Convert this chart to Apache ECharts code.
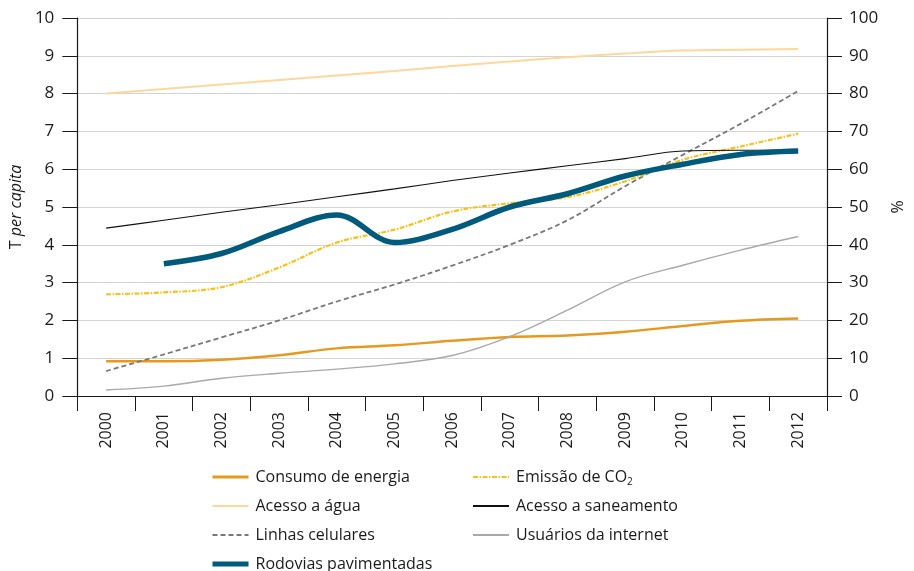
<!DOCTYPE html>
<html><head><meta charset="utf-8">
<script src="https://cdn.jsdelivr.net/npm/echarts@6/dist/echarts.min.js"></script>
<style>html,body{margin:0;padding:0;background:#fff}#c{width:914px;height:571px}</style>
</head><body><div id="c"></div>
<script>
const years = ['2000','2001','2002','2003','2004','2005','2006','2007','2008','2009','2010','2011','2012'];
const leftTicks = [0,1,2,3,4,5,6,7,8,9,10];
const rightTicks = [0,10,20,30,40,50,60,70,80,90,100];
// T per capita (left axis)
const consumoEnergia = [0.92,0.92,0.96,1.08,1.26,1.34,1.46,1.56,1.60,1.70,1.85,1.99,2.05];
const emissaoCO2 = [2.69,2.74,2.88,3.40,4.06,4.40,4.88,5.10,5.26,5.68,6.25,6.60,6.94];
// % (right axis)
const acessoAgua = [80.0,81.2,82.4,83.6,84.8,86.0,87.3,88.5,89.6,90.6,91.4,91.6,91.8];
const acessoSaneamento = [44.4,46.5,48.6,50.6,52.7,54.8,57.0,59.0,60.9,62.8,64.8,65.0,65.0];
const linhasCelulares = [6.6,11.0,15.5,20.0,25.0,29.5,34.5,40.0,46.5,55.5,63.8,72.0,80.7];
const usuariosInternet = [1.6,2.6,4.7,6.0,7.1,8.5,10.7,15.7,22.7,30.2,34.6,38.6,42.2];
const rodovias = [null,35.0,37.7,43.5,47.9,40.6,44.1,50.0,53.5,58.2,61.3,63.9,64.8];

const FONT = 'Open Sans';
const txt = '#1a1a1a';
const chart = echarts.init(document.getElementById('c'));
function ser(name, data, axis, color, width, type, z){
  return {name, type:'line', data, yAxisIndex:axis, smooth:0.35, symbol:'none', showSymbol:false, z:z||2,
    lineStyle:{color, width, type:type||'solid', cap:'butt'}, itemStyle:{color}};
}
const legendBase = {orient:'vertical', top:462, height:140, itemWidth:36, itemHeight:14, itemGap:9,
  itemStyle:{opacity:0}, selectedMode:false};
chart.setOption({
  animation:false,
  textStyle:{fontFamily:FONT},
  grid:{left:77, right:74, top:18, bottom:175, containLabel:false},
  xAxis:{type:'category', data:years, boundaryGap:true,
    axisLine:{lineStyle:{color:txt, width:1.2}},
    axisTick:{show:true, length:15, interval:0, lineStyle:{color:txt}},
    axisLabel:{rotate:90, interval:0, margin:16, fontSize:16, color:txt, fontFamily:FONT},
    splitLine:{show:false}},
  yAxis:[
    {type:'value', min:0, max:10, interval:1, position:'left',
     name:'{n|T }{i|per capita}', nameLocation:'middle', nameGap:52, nameRotate:90,
     nameTextStyle:{padding:[0,0,0,0], rich:{n:{fontSize:16,color:txt,fontFamily:FONT},i:{fontSize:16,color:txt,fontStyle:'italic',fontFamily:FONT}}},
     axisLine:{show:true, lineStyle:{color:txt, width:1.2}},
     axisTick:{show:true, length:15, lineStyle:{color:txt}},
     axisLabel:{fontSize:17, color:txt, margin:23, fontFamily:FONT},
     splitLine:{show:true, lineStyle:{color:'#d4d4d4', width:1}}},
    {type:'value', min:0, max:100, interval:10, position:'right',
     name:'%', nameLocation:'middle', nameGap:63, nameRotate:90,
     nameTextStyle:{fontSize:16, color:txt, fontFamily:FONT},
     axisLine:{show:true, lineStyle:{color:txt, width:1.2}},
     axisTick:{show:true, length:15, lineStyle:{color:txt}},
     axisLabel:{fontSize:17, color:txt, margin:22, fontFamily:FONT},
     splitLine:{show:false}}
  ],
  legend:[
    Object.assign({}, legendBase, {
     data:[{name:'Consumo de energia', lineStyle:{width:3}},'Acesso a água','Linhas celulares',
           {name:'Rodovias pavimentadas', lineStyle:{width:5}}],
     left:205, textStyle:{fontSize:16, lineHeight:20, color:txt, fontFamily:FONT, padding:[0,0,0,2]}}),
    Object.assign({}, legendBase, {
     data:['Emissão de CO2','Acesso a saneamento','Usuários da internet'],
     left:467,
     formatter:function(n){return n==='Emissão de CO2' ? 'Emissão de CO{s|2}' : n;},
     textStyle:{fontSize:16, lineHeight:20, color:txt, fontFamily:FONT, padding:[0,0,0,2],
       rich:{s:{fontSize:10, color:txt, verticalAlign:'bottom', lineHeight:20, padding:[10,0,0,0], fontFamily:FONT}}}})
  ],
  series:[
    ser('Consumo de energia', consumoEnergia, 0, '#e59a1f', 2.5),
    ser('Acesso a água', acessoAgua, 1, '#fdd79c', 2),
    ser('Linhas celulares', linhasCelulares, 1, '#77787b', 1.8, [5,3]),
    ser('Emissão de CO2', emissaoCO2, 0, '#f6c21a', 2.2, [5,1.5,1.5,1.5]),
    ser('Acesso a saneamento', acessoSaneamento, 1, '#111111', 1.1),
    ser('Usuários da internet', usuariosInternet, 1, '#a7a9ac', 1.4),
    ser('Rodovias pavimentadas', rodovias, 1, '#005a7c', 5.5, 'solid', 3)
  ]
});
</script></body></html>
